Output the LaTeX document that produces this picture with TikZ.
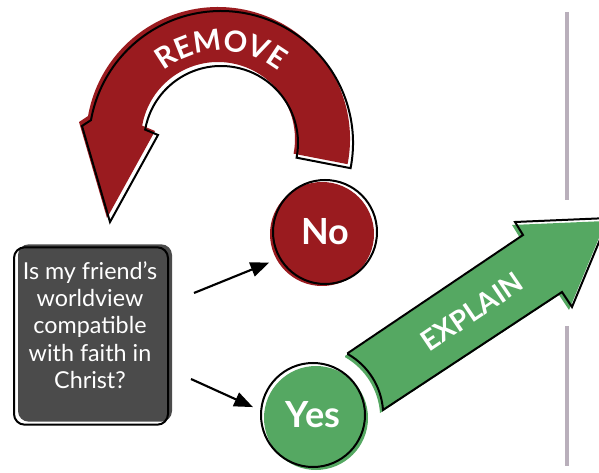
\documentclass[tikz,border=0pt]{standalone}
\usepackage{fontspec}
\setmainfont{Lato}
\usetikzlibrary{arrows.meta,shadows,decorations.text,calc}
\definecolor{removered}{HTML}{9A1B1F}
\definecolor{explaingreen}{HTML}{55A862}
\definecolor{boxgray}{HTML}{4B4B4B}
\definecolor{linegray}{HTML}{B9AFBB}

\begin{document}
\begin{tikzpicture}[x=0.75pt,y=-0.75pt,
    answer/.style={circle, draw=black, line width=1.5pt, minimum size=78pt, inner sep=0pt,
      text=white, font=\bfseries\fontsize{27}{32}\selectfont},
    qbox/.style={rectangle, draw=black, line width=1.5pt, rounded corners=8pt,
      minimum width=115.5pt, minimum height=133pt, inner sep=0pt},
    pointer/.style={line width=1.6pt, -{Triangle[length=14pt,width=11pt]}},
    bigarrow/.style={draw=black, line width=1.5pt, line join=miter}]
    \useasboundingbox (0,0) rectangle (599,473);

    % Draw the divider on the right
    \draw[linegray, line width=2.4pt] (567,12) -- (567,200);
    \draw[linegray, line width=2.4pt] (567,326) -- (567,466);

    % Draw the curved REMOVE arrow
    \coordinate (turn) at (221,143);
    \draw[bigarrow, general shadow={fill=removered, shadow xshift=-2.25pt, shadow yshift=3pt}]
        ($(turn)+(11:132)$) arc[start angle=11, end angle=-170, radius=132]
        -- (82,126) -- (110,222) -- (158,135)
        -- ($(turn)+(-170:77)$) arc[start angle=-170, end angle=11, radius=77] -- cycle;
    \path[decorate, decoration={text along path, text align=center, text color=white,
        text={|\bfseries\fontsize{22}{26}\selectfont|REMOVE}}]
        ($(turn)+(-160:92)$) arc[start angle=-160, end angle=-20, radius=92];

    % Draw the two answers
    \node[answer, general shadow={fill=removered, shadow xshift=-2.25pt, shadow yshift=-1.5pt}] (no) at (325,232) {No};
    \node[answer, general shadow={fill=explaingreen, shadow xshift=2.25pt, shadow yshift=-2.25pt}] (yes) at (313,415) {Yes};

    % Draw the EXPLAIN arrow
    \draw[bigarrow, general shadow={fill=explaingreen, shadow xshift=-2.25pt, shadow yshift=-2.25pt}]
        (348,353) -- (523,235) -- (515,222) -- (609,218) -- (572,307) -- (562,292) -- (383,410)
        arc[start angle=-4, end angle=-60, radius=70] -- cycle;
    \node[rotate=34, text=white, font=\bfseries\fontsize{21}{25}\selectfont] (explain) at (472,312) {EXPLAIN};

    % Draw the question box
    \node[qbox, general shadow={fill=boxgray, shadow xshift=3pt, shadow yshift=2.25pt}] (question) at (91,336) {};
    \node[text=white, align=center, font=\fontsize{17.5}{20.5}\selectfont] (questiontext) at (90,325)
        {Is my friend's\\worldview\\compatible\\with faith in\\Christ?};

    % Draw the arrows from the question
    \coordinate (nofrom) at (194,293);
    \coordinate (yesfrom) at (191,379);
    \draw[pointer, shorten >=8pt] (nofrom) -- (no.210);
    \draw[pointer, shorten >=6pt] (yesfrom) -- (yes.175);
\end{tikzpicture}
\end{document}
